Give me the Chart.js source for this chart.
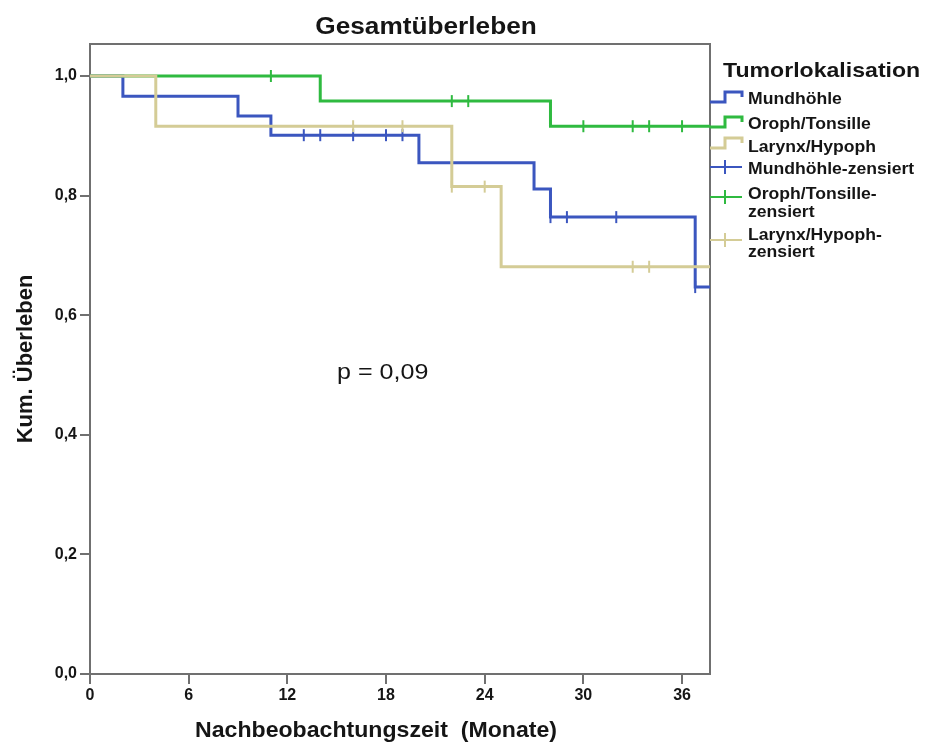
<!DOCTYPE html>
<html>
<head>
<meta charset="utf-8">
<script src="https://cdn.jsdelivr.net/npm/chart.js@4.4.1/dist/chart.umd.min.js"></script>
<style>
  html, body { margin: 0; padding: 0; background: #fff; }
  #wrap { width: 925px; height: 742px; }
</style>
</head>
<body>
<div id="wrap"><canvas id="myChart" width="925" height="742"></canvas></div>
<script>
// Kaplan-Meier steps per group: time (months) and survival after the event
const monthsMund = [0, 2, 9, 11, 20, 27, 28, 36.8, 38];
const survMund = [1, 0.966, 0.933, 0.901, 0.855, 0.811, 0.764, 0.647, 0.647];
const censMund = [13, 14, 16, 18, 19, 28, 29, 32, 36.8];

const monthsOroph = [0, 14, 28, 38];
const survOroph = [1, 0.958, 0.916, 0.916];
const censOroph = [11, 22, 23, 30, 33, 34, 36];

const monthsLarynx = [0, 4, 22, 25, 38];
const survLarynx = [1, 0.916, 0.815, 0.681, 0.681];
const censLarynx = [16, 19, 22, 24, 33, 34];

const groupNames = ["Mundhöhle", "Oroph/Tonsille", "Larynx/Hypoph"];
const groupColors = ["#3b56bf", "#2fba40", "#d4cc96"];
const legendTitle = "Tumorlokalisation";
const chartTitle = "Gesamtüberleben";
const xTitle = "Nachbeobachtungszeit  (Monate)";
const yTitle = "Kum. Überleben";
const pText = "p = 0,09";

const textColor = "#151515";
const axisColor = "#707070";

function steps(months, surv) {
  return months.map((m, i) => ({ x: m, y: surv[i] }));
}

// survival value at a censoring time = last step at or before it
function censPoints(cens, months, surv) {
  return cens.map((t) => {
    let y = surv[0];
    months.forEach((m, i) => { if (m <= t) y = surv[i]; });
    return { x: t, y: y };
  });
}

function lineSet(months, surv, color, order) {
  return {
    type: 'line',
    data: steps(months, surv),
    borderColor: color,
    borderWidth: 3,
    stepped: 'before',
    pointRadius: 0,
    fill: false,
    clip: 0,
    order: order
  };
}

function censSet(cens, months, surv, color, order) {
  return {
    type: 'scatter',
    data: censPoints(cens, months, surv),
    borderColor: color,
    backgroundColor: color,
    pointStyle: 'line',
    rotation: 90,
    pointRadius: 6,
    borderWidth: 2,
    showLine: false,
    order: order
  };
}

function stretchText(ctx, text, x, y, sx, align) {
  ctx.save();
  ctx.translate(x, y);
  ctx.scale(sx, 1);
  ctx.textAlign = align;
  ctx.fillText(text, 0, 0);
  ctx.restore();
}

const decorations = {
  id: 'decorations',
  beforeDatasetsDraw(chart) {
    const { ctx, chartArea } = chart;
    ctx.save();
    ctx.strokeStyle = axisColor;
    ctx.lineWidth = 2;
    ctx.beginPath();
    ctx.moveTo(chartArea.left, chartArea.top);
    ctx.lineTo(chartArea.right, chartArea.top);
    ctx.lineTo(chartArea.right, chartArea.bottom);
    ctx.stroke();
    ctx.restore();
  },
  afterDraw(chart) {
    const { ctx } = chart;
    ctx.save();
    ctx.fillStyle = textColor;
    ctx.textBaseline = 'alphabetic';

    ctx.font = "bold 23px 'Liberation Sans', Arial, sans-serif";
    stretchText(ctx, chartTitle, 426, 34, 1.14, 'center');

    ctx.font = "bold 22px 'Liberation Sans', Arial, sans-serif";
    stretchText(ctx, xTitle, 376, 737, 1.05, 'center');

    ctx.font = "22px 'Liberation Sans', Arial, sans-serif";
    stretchText(ctx, pText, 337, 379, 1.14, 'left');

    // legend
    ctx.font = "bold 21px 'Liberation Sans', Arial, sans-serif";
    stretchText(ctx, legendTitle, 723, 77, 1.1, 'left');

    ctx.lineWidth = 3;
    const stepY = [102, 127, 148];
    groupColors.forEach((c, i) => {
      const y = stepY[i];
      ctx.strokeStyle = c;
      ctx.beginPath();
      ctx.moveTo(710, y);
      ctx.lineTo(725, y);
      ctx.lineTo(725, y - 10);
      ctx.lineTo(742, y - 10);
      ctx.lineTo(742, y - 5);
      ctx.stroke();
    });

    ctx.lineWidth = 2;
    const censY = [167, 197, 240];
    groupColors.forEach((c, i) => {
      const y = censY[i];
      ctx.strokeStyle = c;
      ctx.beginPath();
      ctx.moveTo(710, y);
      ctx.lineTo(742, y);
      ctx.moveTo(725, y - 7);
      ctx.lineTo(725, y + 7);
      ctx.stroke();
    });

    ctx.font = "bold 16px 'Liberation Sans', Arial, sans-serif";
    const rows = [
      [groupNames[0], 104],
      [groupNames[1], 129],
      [groupNames[2], 152],
      [groupNames[0] + "-zensiert", 174],
      [groupNames[1] + "-", 199],
      ["zensiert", 217],
      [groupNames[2] + "-", 240],
      ["zensiert", 257]
    ];
    rows.forEach(([t, y]) => stretchText(ctx, t, 748, y, 1.1, 'left'));
    ctx.restore();
  }
};

const tickFont = { family: "'Liberation Sans', Arial, sans-serif", size: 16, weight: 'bold' };

new Chart(document.getElementById("myChart"), {
  data: {
    datasets: [
      lineSet(monthsMund, survMund, groupColors[0], 3),
      lineSet(monthsOroph, survOroph, groupColors[1], 2),
      lineSet(monthsLarynx, survLarynx, groupColors[2], 1),
      censSet(censMund, monthsMund, survMund, groupColors[0], 3),
      censSet(censOroph, monthsOroph, survOroph, groupColors[1], 2),
      censSet(censLarynx, monthsLarynx, survLarynx, groupColors[2], 1)
    ]
  },
  options: {
    responsive: false,
    animation: false,
    layout: { padding: { top: 44, right: 215, left: 0, bottom: 0 } },
    plugins: {
      legend: { display: false },
      tooltip: { enabled: false },
      title: { display: false }
    },
    scales: {
      x: {
        type: 'linear',
        min: 0,
        max: 37.7,
        afterFit: (scale) => { scale.height = 68; },
        border: { display: true, color: axisColor, width: 2 },
        grid: { drawOnChartArea: false, drawTicks: true, tickLength: 10, color: axisColor, lineWidth: 2 },
        ticks: {
          stepSize: 6,
          includeBounds: false,
          color: textColor,
          font: tickFont,
          padding: 2,
          maxRotation: 0
        }
      },
      y: {
        type: 'linear',
        min: 0,
        max: 1.0535,
        afterFit: (scale) => { scale.width = 90; },
        border: { display: true, color: axisColor, width: 2 },
        grid: { drawOnChartArea: false, drawTicks: true, tickLength: 10, color: axisColor, lineWidth: 2 },
        ticks: {
          stepSize: 0.2,
          includeBounds: false,
          color: textColor,
          font: tickFont,
          padding: 3,
          callback: (v) => v.toFixed(1).replace('.', ',')
        },
        title: {
          display: true,
          text: yTitle,
          color: textColor,
          font: { family: "'Liberation Sans', Arial, sans-serif", size: 22, weight: 'bold' },
          padding: { top: 13, bottom: 0 }
        }
      }
    }
  },
  plugins: [decorations]
});
</script>
</body>
</html>
